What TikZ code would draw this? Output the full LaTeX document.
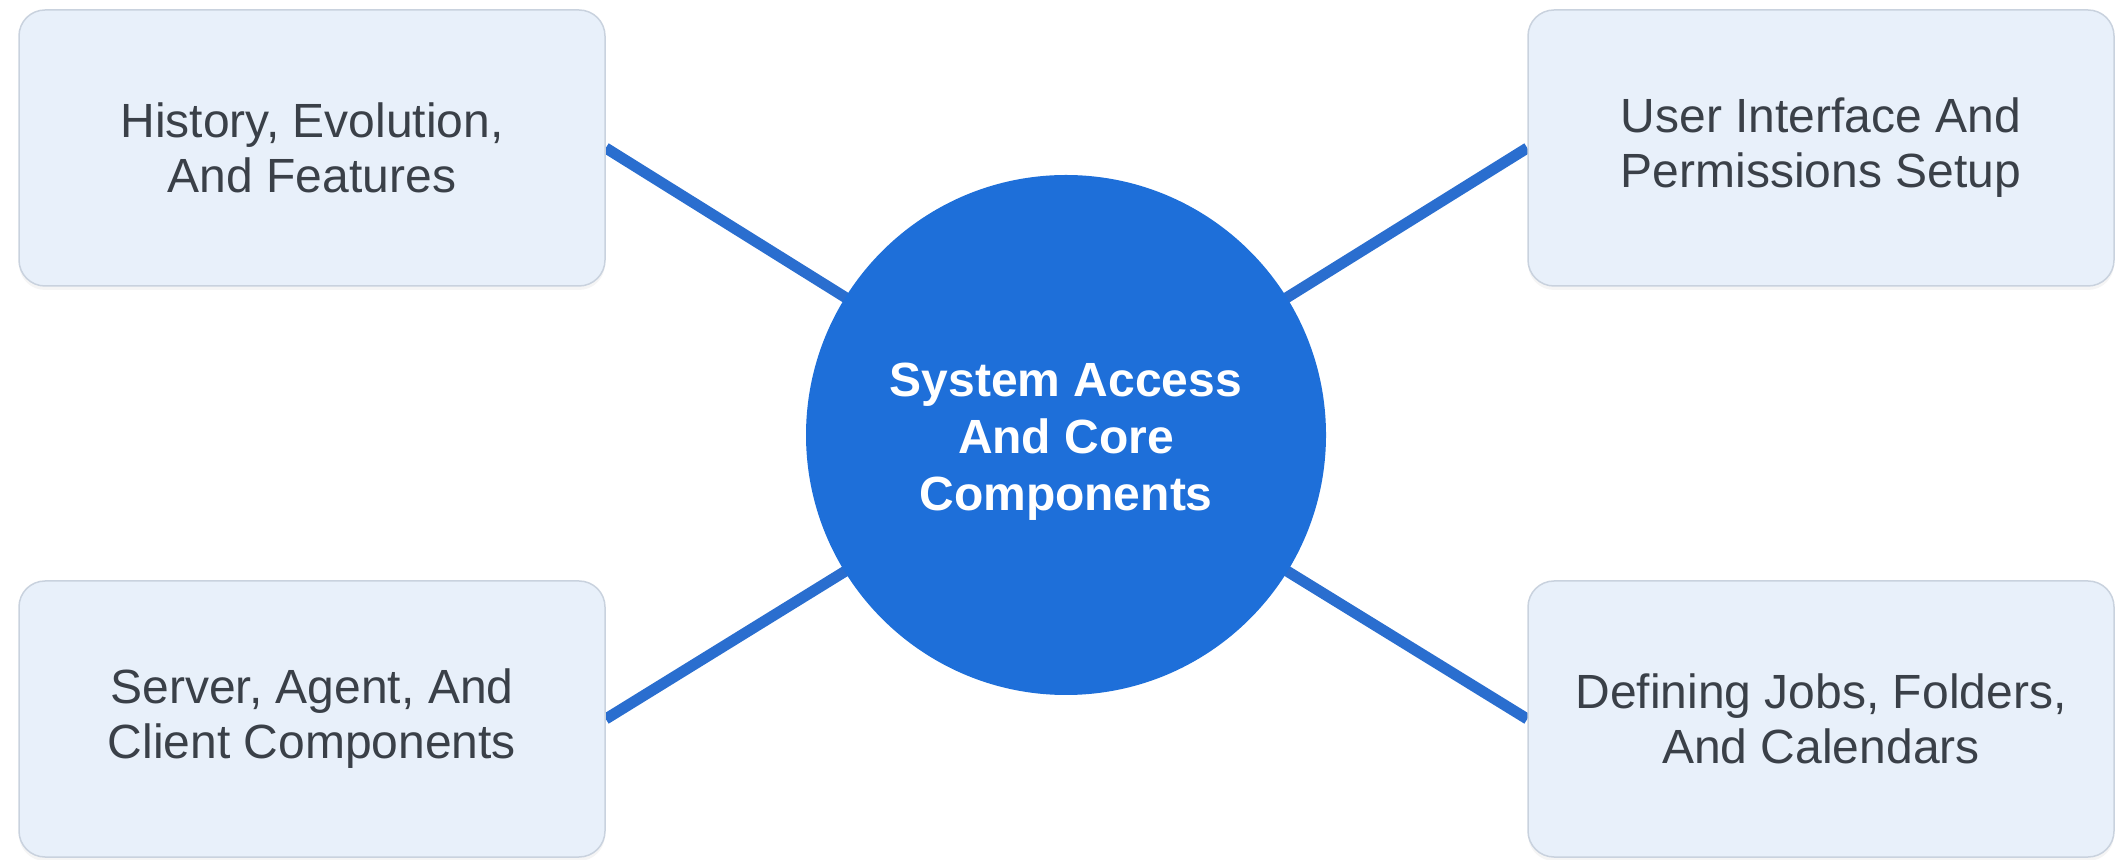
\documentclass[tikz,border=0pt]{standalone}
\usepackage{fontspec}
\setmainfont{Liberation Sans}
\usetikzlibrary{shadows,backgrounds}
\definecolor{boxfill}{HTML}{E8F0FA}
\definecolor{boxline}{HTML}{C9D2DE}
\definecolor{hubblue}{HTML}{1E6FD9}
\definecolor{linkblue}{HTML}{2A6ECF}
\definecolor{txtgray}{HTML}{3A4048}
\tikzset{
  topicbox/.style={draw=boxline, line width=1.5pt, fill=boxfill, rounded corners=26pt,
    minimum width=586pt, minimum height=276pt, align=center, text=txtgray,
    font=\fontsize{48}{55}\selectfont,
    drop shadow={opacity=0.08, shadow xshift=0pt, shadow yshift=-4pt}},
  hub/.style={circle, fill=hubblue, minimum size=520pt, inner sep=0pt, align=center,
    text=white, font=\bfseries\fontsize{48}{57}\selectfont},
  link/.style={draw=linkblue, line width=11pt}
}
\begin{document}
\begin{tikzpicture}[x=1pt,y=1pt]
\useasboundingbox (0,0) rectangle (2116,859);
\node[hub] (c) at (1066,424) {};
\node[font=\bfseries\fontsize{48}{57}\selectfont, text=white, align=center] (ct) at (1066,417) {System Access\\And Core\\Components};
\node[topicbox] (b1) at (312,711) {History, Evolution,\\And Features};
\node[topicbox] (b2) at (1821,711) {User Interface And\\Permissions Setup};
\node[topicbox] (b3) at (312,140) {Server, Agent, And\\Client Components};
\node[topicbox] (b4) at (1821,140) {Defining Jobs, Folders,\\And Calendars};
\begin{scope}[on background layer]
\draw[link] (b1.east) -- (c.center);
\draw[link] (b2.west) -- (c.center);
\draw[link] (b3.east) -- (c.center);
\draw[link] (b4.west) -- (c.center);
\end{scope}
\end{tikzpicture}
\end{document}
